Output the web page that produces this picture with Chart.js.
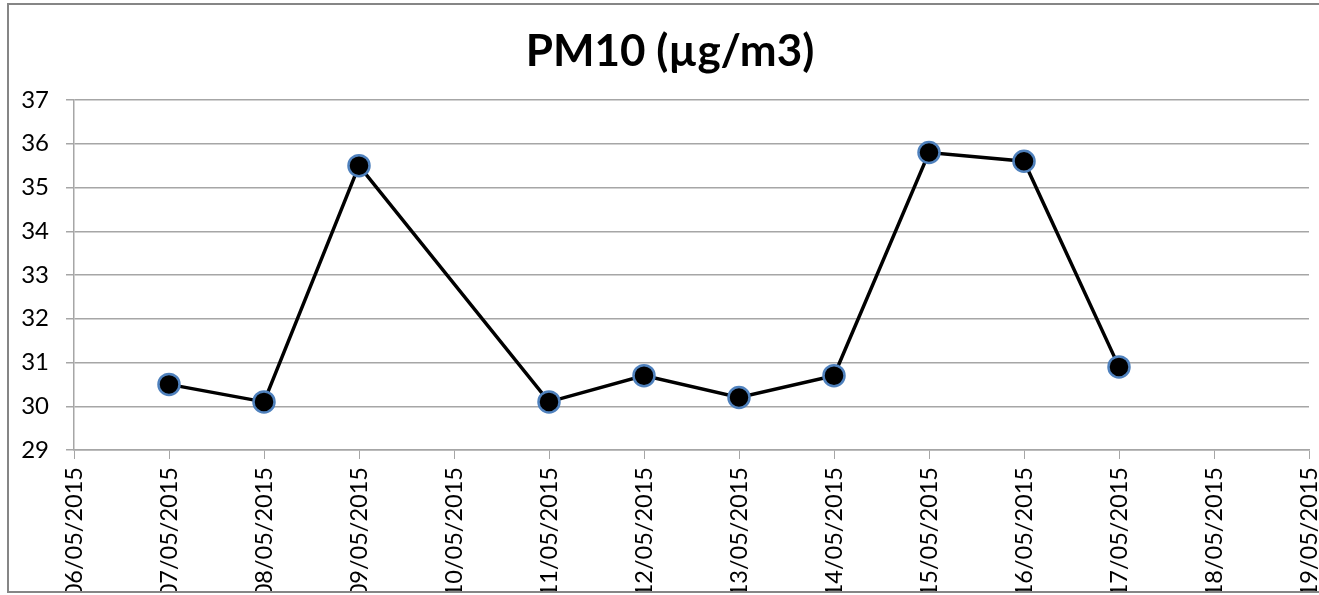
<!DOCTYPE html>
<html>
<head>
<meta charset="utf-8">
<script src="https://cdn.jsdelivr.net/npm/chart.js@4/dist/chart.umd.min.js"></script>
<style>
  html, body { margin: 0; padding: 0; background: #fff; overflow: hidden; width: 1319px; height: 595px; }
  #frame { position: absolute; left: 7px; top: 3px; width: 1330px; height: 586px;
           border-left: 2px solid #868686; border-top: 2px solid #868686; border-bottom: 2px solid #868686;
           overflow: hidden; }
  #c { position: absolute; left: -9px; top: -5px; }
</style>
</head>
<body>
<div id="frame"><canvas id="c" width="1360" height="640"></canvas></div>
<script>
const chartTitle = 'PM10 (µg/m3)';
const dates = ['06/05/2015','07/05/2015','08/05/2015','09/05/2015','10/05/2015','11/05/2015','12/05/2015',
               '13/05/2015','14/05/2015','15/05/2015','16/05/2015','17/05/2015','18/05/2015','19/05/2015'];
const pm10 = [null, 30.5, 30.1, 35.5, null, 30.1, 30.7, 30.2, 30.7, 35.8, 35.6, 30.9, null, null];
const yMin = 29, yMax = 37, yStep = 1;

const gridGray = '#a6a6a6';
const titleShift = {
  id: 'titleShift',
  afterLayout(chart) {
    const t = chart.titleBlock;
    if (t) { t.left += 31; t.width = t.right - t.left; }
  }
};
new Chart(document.getElementById('c'), {
  type: 'line',
  data: {
    labels: dates,
    datasets: [{
      label: chartTitle,
      data: pm10,
      borderColor: '#000',
      borderWidth: 3.5,
      tension: 0,
      spanGaps: true,
      pointRadius: 10.5,
      pointHoverRadius: 10.5,
      pointBackgroundColor: '#000',
      pointBorderColor: '#4f81bd',
      pointBorderWidth: 2.5
    }]
  },
  plugins: [titleShift],
  options: {
    responsive: false,
    animation: false,
    devicePixelRatio: 1,
    layout: { padding: { left: 0, right: 51, top: 0, bottom: 0 } },
    plugins: {
      legend: { display: false },
      tooltip: { enabled: false },
      title: {
        display: true,
        text: chartTitle,
        color: '#000',
        font: { family: 'Lato', size: 44, weight: 'bold', lineHeight: 1.2 },
        padding: { top: 25, bottom: 22.2 }
      }
    },
    scales: {
      x: {
        type: 'category',
        offset: false,
        afterFit: s => { s.height = 190; },
        grid: { drawOnChartArea: false, drawTicks: true, tickLength: 9, tickColor: gridGray },
        border: { display: true, color: gridGray, width: 1.5 },
        ticks: {
          autoSkip: false, maxRotation: 90, minRotation: 90, padding: 8,
          color: '#000', font: { family: 'Lato', size: 23.5 }
        }
      },
      y: {
        min: yMin, max: yMax,
        afterFit: s => { s.width = 74; },
        grid: { color: gridGray, lineWidth: 1.5, tickLength: 8, tickColor: gridGray },
        border: { display: true, color: gridGray, width: 1.5 },
        ticks: { stepSize: yStep, padding: 17, color: '#000', font: { family: 'Lato', size: 24 } }
      }
    }
  }
});
</script>
</body>
</html>
